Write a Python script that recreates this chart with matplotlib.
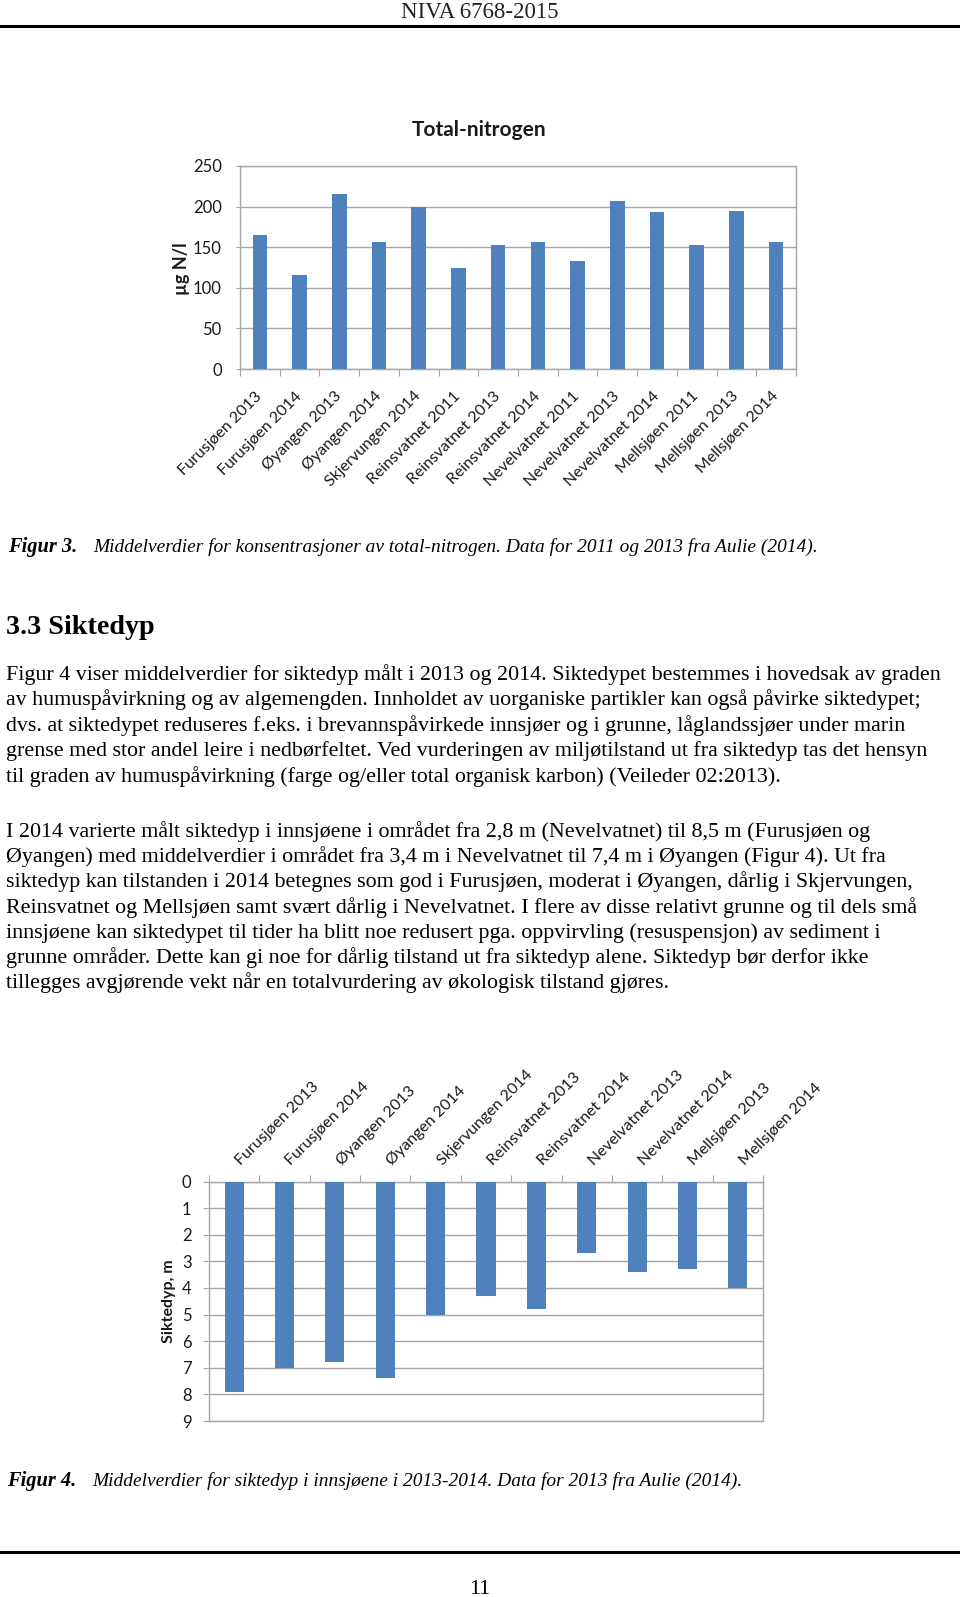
import matplotlib
matplotlib.use("Agg")
import matplotlib.pyplot as plt
from matplotlib.lines import Line2D
from matplotlib.transforms import ScaledTranslation, blended_transform_factory
import numpy as np

W, H, DPI = 960, 1597, 100

# ---------------- data ----------------
header_text = "NIVA 6768-2015"
page_number = "11"

tn_title = "Total-nitrogen"
tn_ylabel = "µg N/l"
tn_labels = ["Furusjøen 2013", "Furusjøen 2014", "Øyangen 2013", "Øyangen 2014",
             "Skjervungen 2014", "Reinsvatnet 2011", "Reinsvatnet 2013", "Reinsvatnet 2014",
             "Nevelvatnet 2011", "Nevelvatnet 2013", "Nevelvatnet 2014", "Mellsjøen 2011",
             "Mellsjøen 2013", "Mellsjøen 2014"]
tn_values = [165, 116, 216, 157, 200, 125, 153, 157, 133, 207, 193, 153, 195, 157]
tn_yticks = [0, 50, 100, 150, 200, 250]

sd_ylabel = "Siktedyp, m"
sd_labels = ["Furusjøen 2013", "Furusjøen 2014", "Øyangen 2013", "Øyangen 2014",
             "Skjervungen 2014", "Reinsvatnet 2013", "Reinsvatnet 2014", "Nevelvatnet 2013",
             "Nevelvatnet 2014", "Mellsjøen 2013", "Mellsjøen 2014"]
sd_values = [7.9, 7.0, 6.8, 7.4, 5.0, 4.3, 4.8, 2.7, 3.4, 3.3, 4.0]
sd_yticks = [0, 1, 2, 3, 4, 5, 6, 7, 8, 9]

fig3_lead = "Figur 3."
fig3_caption = "Middelverdier for konsentrasjoner av total-nitrogen. Data for 2011 og 2013 fra Aulie (2014)."
fig4_lead = "Figur 4."
fig4_caption = "Middelverdier for siktedyp i innsjøene i 2013-2014. Data for 2013 fra Aulie (2014)."
heading = "3.3 Siktedyp"
para1 = [
    "Figur 4 viser middelverdier for siktedyp målt i 2013 og 2014. Siktedypet bestemmes i hovedsak av graden",
    "av humuspåvirkning og av algemengden. Innholdet av uorganiske partikler kan også påvirke siktedypet;",
    "dvs. at siktedypet reduseres f.eks. i brevannspåvirkede innsjøer og i grunne, låglandssjøer under marin",
    "grense med stor andel leire i nedbørfeltet. Ved vurderingen av miljøtilstand ut fra siktedyp tas det hensyn",
    "til graden av humuspåvirkning (farge og/eller total organisk karbon) (Veileder 02:2013).",
]
para2 = [
    "I 2014 varierte målt siktedyp i innsjøene i området fra 2,8 m (Nevelvatnet) til 8,5 m (Furusjøen og",
    "Øyangen) med middelverdier i området fra 3,4 m i Nevelvatnet til 7,4 m i Øyangen (Figur 4). Ut fra",
    "siktedyp kan tilstanden i 2014 betegnes som god i Furusjøen, moderat i Øyangen, dårlig i Skjervungen,",
    "Reinsvatnet og Mellsjøen samt svært dårlig i Nevelvatnet. I flere av disse relativt grunne og til dels små",
    "innsjøene kan siktedypet til tider ha blitt noe redusert pga. oppvirvling (resuspensjon) av sediment i",
    "grunne områder. Dette kan gi noe for dårlig tilstand ut fra siktedyp alene. Siktedyp bør derfor ikke",
    "tillegges avgjørende vekt når en totalvurdering av økologisk tilstand gjøres.",
]

# ---------------- style ----------------
BAR = "#4F81BD"
GRID = "#A6A6A6"
TXT = "#1a1a1a"
SERIF = ["Liberation Serif", "DejaVu Serif"]
SANS = ["Lato", "DejaVu Sans"]
CHART_FS = 11.5

fig = plt.figure(figsize=(W / DPI, H / DPI), dpi=DPI)
fig.patch.set_facecolor("white")
renderer = fig.canvas.get_renderer()


def px_axes(l, t, r, b):
    return fig.add_axes([l / W, 1 - b / H, (r - l) / W, (b - t) / H])


def put(x, y, s, **kw):
    return fig.text(x / W, 1 - y / H, s, **kw)


def fit_size(s, target, **kw):
    t = fig.text(0, 0, s, fontsize=10, **kw)
    w = t.get_window_extent(renderer).width
    t.remove()
    return 10 * target / w


def hline(y, lw=2.0):
    fig.add_artist(Line2D([0, 1], [1 - y / H] * 2, transform=fig.transFigure,
                          color="black", lw=lw))


# ---------------- page text ----------------
hs = fit_size(header_text, 157, family=SERIF)
put(480, 18, header_text, ha="center", va="baseline", family=SERIF, fontsize=hs, color="#222222")
hline(25.5, 2.2)

body_fs = fit_size(para1[0], 937, family=SERIF)
cap_fs = fit_size(fig3_caption, 726, family=SERIF, style="italic")

put(8, 552, fig3_lead, va="baseline", family=SERIF, style="italic", weight="bold", fontsize=cap_fs * 1.05)
put(93, 552, fig3_caption, va="baseline", family=SERIF, style="italic", fontsize=cap_fs)

head_fs = fit_size(heading, 149, family=SERIF, weight="bold")
put(6, 634, heading, va="baseline", family=SERIF, weight="bold", fontsize=head_fs)

for i, line in enumerate(para1):
    put(6, 680 + i * 25.4, line, va="baseline", family=SERIF, fontsize=body_fs)
for i, line in enumerate(para2):
    put(6, 837 + i * 25.2, line, va="baseline", family=SERIF, fontsize=body_fs)

put(7, 1486, fig4_lead, va="baseline", family=SERIF, style="italic", weight="bold", fontsize=cap_fs * 1.05)
put(92, 1486, fig4_caption, va="baseline", family=SERIF, style="italic", fontsize=cap_fs)

hline(1552, 2.2)
put(480, 1594, page_number, ha="center", va="baseline", family=SERIF, fontsize=body_fs)

# ---------------- chart 1: Total-nitrogen ----------------
ax1 = px_axes(240, 166, 796, 369)
n1 = len(tn_labels)
x1 = np.arange(n1)
ax1.bar(x1, tn_values, width=0.37, color=BAR, zorder=3)
ax1.set_xlim(-0.5, n1 - 0.5)
ax1.set_ylim(tn_yticks[0], tn_yticks[-1])
ax1.set_yticks(tn_yticks)
ax1.set_yticklabels([str(v) for v in tn_yticks], fontfamily=SANS, fontsize=CHART_FS + 0.5, color=TXT)
ax1.yaxis.grid(True, color=GRID, lw=1.0, zorder=0)
ax1.set_axisbelow(True)
for sp in ax1.spines.values():
    sp.set_color(GRID)
    sp.set_linewidth(1.0)
ax1.tick_params(axis="y", length=3.2, color=GRID, pad=10)
ax1.set_xticks(np.arange(-0.5, n1, 1.0))
ax1.set_xticklabels([])
ax1.tick_params(axis="x", length=5, color=GRID, direction="out")
tr1 = blended_transform_factory(ax1.transData, ax1.transAxes) + \
    ScaledTranslation(0 / DPI, -25 / DPI, fig.dpi_scale_trans)
for xi, lab in zip(x1, tn_labels):
    ax1.text(xi, 0, lab, transform=tr1, rotation=45, ha="right", va="center",
             rotation_mode="anchor", family=SANS, fontsize=CHART_FS, color=TXT)
put(479, 130, tn_title, ha="center", va="center", family=SANS, weight="bold",
    fontsize=15, color=TXT)
put(182, 269, tn_ylabel, ha="center", va="center", rotation=90, family=SANS,
    weight="bold", fontsize=13, color=TXT)

# ---------------- chart 2: Siktedyp ----------------
ax2 = px_axes(209, 1181.5, 763, 1421)
n2 = len(sd_labels)
x2 = np.arange(n2)
ax2.bar(x2, sd_values, width=0.38, color=BAR, zorder=3)
ax2.set_xlim(-0.5, n2 - 0.5)
ax2.set_ylim(sd_yticks[-1], sd_yticks[0])
ax2.set_yticks(sd_yticks)
ax2.set_yticklabels([str(v) for v in sd_yticks], fontfamily=SANS, fontsize=CHART_FS + 0.5, color=TXT)
ax2.yaxis.grid(True, color=GRID, lw=1.0, zorder=0)
ax2.set_axisbelow(True)
for sp in ax2.spines.values():
    sp.set_color(GRID)
    sp.set_linewidth(1.0)
ax2.tick_params(axis="y", length=4.3, color=GRID, pad=8.3)
ax2.xaxis.tick_top()
ax2.set_xticks(np.arange(-0.5, n2, 1.0))
ax2.set_xticklabels([])
ax2.tick_params(axis="x", length=5, color=GRID, direction="out")
tr2 = blended_transform_factory(ax2.transData, ax2.transAxes) + \
    ScaledTranslation(4 / DPI, 18 / DPI, fig.dpi_scale_trans)
for xi, lab in zip(x2, sd_labels):
    ax2.text(xi, 1, lab, transform=tr2, rotation=45, ha="left", va="center",
             rotation_mode="anchor", family=SANS, fontsize=CHART_FS, color=TXT)
put(169, 1301, sd_ylabel, ha="center", va="center", rotation=90, family=SANS,
    weight="bold", fontsize=CHART_FS, color=TXT)

fig.savefig("out.png", dpi=DPI, facecolor="white")
